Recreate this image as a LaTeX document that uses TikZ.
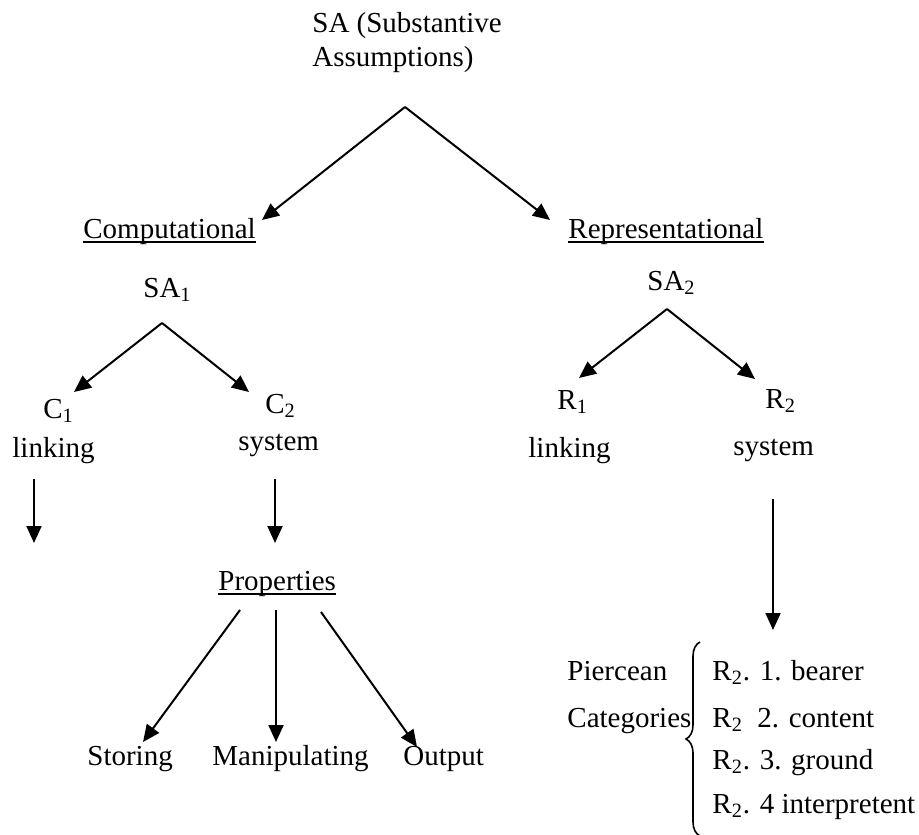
\documentclass[tikz,border=0pt]{standalone}
\usepackage{fontspec}
\setmainfont{Liberation Serif}
\usetikzlibrary{arrows.meta,decorations.pathreplacing}
\begin{document}
\begin{tikzpicture}[x=0.5pt,y=-0.5pt,
  lbl/.style={inner sep=0pt,anchor=base west,font=\fontsize{14.5}{17}\selectfont},
  arr/.style={line width=1pt,-{Triangle[length=8.5pt,width=7.5pt]}},
  uline/.style={line width=0.8pt},
  bracepath/.style={line width=0.8pt,decorate,decoration={brace,amplitude=7pt}}]
\useasboundingbox (0,0) rectangle (919,834);

% labels
\node[lbl] (sa)    at (312,33)  {SA (Substantive};
\node[lbl] (saB)   at (312,67)  {Assumptions)};
\node[lbl] (comp)  at (83,238)  {Computational};
\node[lbl] (repr)  at (568,238) {Representational};
\node[lbl] (saone) at (143,297) {SA\textsubscript{1}};
\node[lbl] (satwo) at (647,290) {SA\textsubscript{2}};
\node[lbl] (cone)  at (43,418)  {C\textsubscript{1}};
\node[lbl] (clink) at (12,457)  {linking};
\node[lbl] (ctwo)  at (265,413) {C\textsubscript{2}};
\node[lbl] (csys)  at (238,450) {system};
\node[lbl] (rone)  at (557,409) {R\textsubscript{1}};
\node[lbl] (rlink) at (528,457) {linking};
\node[lbl] (rtwo)  at (765,408) {R\textsubscript{2}};
\node[lbl] (rsys)  at (733,455) {system};
\node[lbl] (props) at (218,590) {Properties};
\node[lbl] (stor)  at (87,765)  {Storing};
\node[lbl] (manip) at (212,765) {Manipulating};
\node[lbl] (outp)  at (403,765) {Output};
\node[lbl] (pier)  at (567,680) {Piercean};
\node[lbl] (cats)  at (567,727) {Categories};
\node[lbl] (rcone)   at (712,680) {R\textsubscript{2}. 1. bearer};
\node[lbl] (rctwo)   at (712,727) {R\textsubscript{2}\ \ 2. content};
\node[lbl] (rcthree) at (712,769) {R\textsubscript{2}. 3. ground};
\node[lbl] (rcfour)  at (712,813) {R\textsubscript{2}. 4 interpretent};

% underlines
\foreach \n in {comp,repr,props}
  \draw[uline] ([yshift=-2pt]\n.base west) -- ([yshift=-2pt]\n.base east);

% branching points and arrow ends
\coordinate (forksa) at (405,107);
\coordinate (tipcomp) at (262,220);
\coordinate (tiprepr) at (550,220);
\coordinate (forkc) at (162,323);
\coordinate (tipcone) at (74,392);
\coordinate (tipctwo) at (249,392);
\coordinate (forkr) at (667,309);
\coordinate (tiprone) at (579,378);
\coordinate (tiprtwo) at (755,379);
\coordinate (downcone) at (34,479);
\coordinate (endcone) at (34,543);
\coordinate (downctwo) at (275,479);
\coordinate (endctwo) at (275,543);
\coordinate (downrtwo) at (773,499);
\coordinate (endrtwo) at (773,630);
\coordinate (propl) at (240,610);
\coordinate (propm) at (276,610);
\coordinate (propr) at (321,612);
\coordinate (tipstor) at (143,742);
\coordinate (tipmanip) at (276,742);
\coordinate (tipoutp) at (417,747);
\coordinate (bracebot) at (700,836);
\coordinate (bracetop) at (700,642);

% arrows
\draw[arr] (forksa) -- (tipcomp);
\draw[arr] (forksa) -- (tiprepr);
\draw[arr] (forkc) -- (tipcone);
\draw[arr] (forkc) -- (tipctwo);
\draw[arr] (forkr) -- (tiprone);
\draw[arr] (forkr) -- (tiprtwo);
\draw[arr] (downcone) -- (endcone);
\draw[arr] (downctwo) -- (endctwo);
\draw[arr] (downrtwo) -- (endrtwo);
\draw[arr] (propl) -- (tipstor);
\draw[arr] (propm) -- (tipmanip);
\draw[arr] (propr) -- (tipoutp);

% brace grouping the categories
\draw[bracepath] (bracebot) -- (bracetop);
\end{tikzpicture}
\end{document}
